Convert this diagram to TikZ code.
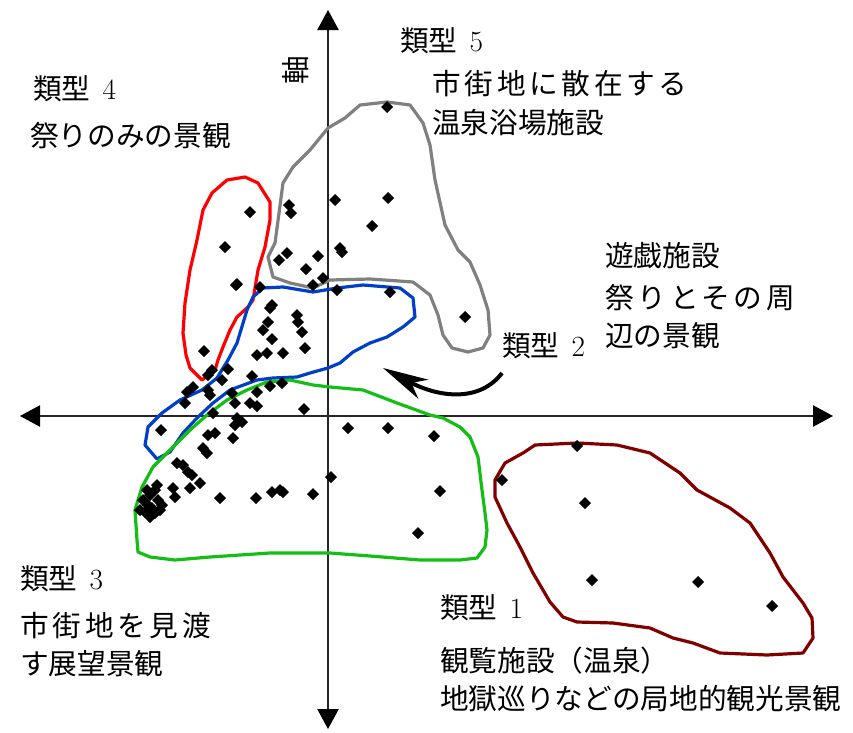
\documentclass[tikz,border=0pt]{standalone}
\usepackage{fontspec}
\newfontfamily\jpfont{Noto Sans CJK JP}
\newfontfamily\jpwide{Noto Sans CJK JP}[LetterSpace=13]
\usetikzlibrary{arrows.meta}
\definecolor{cgrey}{RGB}{128,128,128}
\definecolor{cred}{RGB}{255,0,0}
\definecolor{cblue}{RGB}{0,64,200}
\definecolor{cgreen}{RGB}{20,190,20}
\definecolor{cdark}{RGB}{128,0,0}
\newcommand{\typnum}[1]{\hspace{9pt}{\rmfamily\fontsize{22pt}{25pt}\selectfont #1}}
\tikzset{
  lbl/.style={anchor=base west, inner sep=0pt, font=\fontsize{21.5pt}{25pt}\selectfont\jpfont},
  lblw/.style={anchor=base west, inner sep=0pt, font=\fontsize{21.5pt}{25pt}\selectfont\jpwide},
  region/.style={line width=2.4pt, line join=round},
  axis/.style={line width=0.9pt, black!85,
    {Triangle[length=15pt,width=16pt,black]}-{Triangle[length=15pt,width=16pt,black]}},
  mk/.style={fill=black}
}
\begin{document}
\begin{tikzpicture}[x=0.75pt,y=-0.75pt]
\useasboundingbox (0,0) rectangle (853,732);
% axes
\coordinate (xl) at (20,416);
\coordinate (xr) at (833,416);
\coordinate (yt) at (328,10);
\coordinate (yb) at (328,729);
\draw[axis] (xl) -- (xr);
\draw[axis] (yb) -- (yt);
% regions
\draw[region, cgrey] (360,105) -- (387,102) -- (410,105) -- (423,123) -- (430,145) -- (435,180) -- (445,225) -- (458,250) -- (470,262) -- (480,285) -- (488,310) -- (490,335) -- (483,348) -- (468,352) -- (452,348) -- (443,335) -- (438,315) -- (430,295) -- (413,282) -- (370,279) -- (330,280) -- (313,288) -- (290,283) -- (273,277) -- (268,257) -- (275,243) -- (283,183) -- (293,167) -- (310,150) -- (328,128) -- (345,118) -- cycle;
\draw[region, cred] (227,180) -- (245,177) -- (258,183) -- (270,202) -- (270,220) -- (265,247) -- (258,270) -- (253,300) -- (248,307) -- (237,317) -- (230,330) -- (223,347) -- (218,360) -- (215,370) -- (202,380) -- (190,368) -- (186,355) -- (183,333) -- (185,303) -- (190,270) -- (197,240) -- (203,210) -- (212,193) -- cycle;
\draw[region, cblue] (263,288) -- (283,287) -- (313,292) -- (337,288) -- (363,285) -- (400,288) -- (413,298) -- (415,317) -- (403,327) -- (387,337) -- (370,343) -- (353,352) -- (340,363) -- (328,368) -- (310,373) -- (297,377) -- (273,378) -- (257,380) -- (230,390) -- (213,403) -- (198,417) -- (183,433) -- (170,452) -- (157,459) -- (145,445) -- (148,427) -- (162,413) -- (180,400) -- (202,390) -- (217,378) -- (228,360) -- (237,343) -- (247,310) -- (253,297) -- cycle;
\draw[region, cgreen] (137,540) -- (135,510) -- (142,487) -- (153,467) -- (170,450) -- (190,430) -- (207,415) -- (227,400) -- (247,390) -- (267,382) -- (290,380) -- (313,385) -- (330,387) -- (363,390) -- (397,403) -- (430,415) -- (443,418) -- (460,427) -- (470,437) -- (478,457) -- (482,490) -- (485,513) -- (487,530) -- (485,547) -- (477,558) -- (460,560) -- (420,560) -- (370,556) -- (330,553) -- (270,553) -- (210,557) -- (175,560) -- (150,557) -- (138,552) -- cycle;
\draw[region, cdark] (535,445) -- (577,443) -- (617,445) -- (650,453) -- (680,473) -- (697,490) -- (730,508) -- (750,523) -- (770,553) -- (783,577) -- (803,603) -- (812,618) -- (813,638) -- (803,653) -- (767,655) -- (720,653) -- (693,643) -- (673,638) -- (650,628) -- (613,623) -- (577,622) -- (563,617) -- (550,602) -- (533,573) -- (520,547) -- (507,523) -- (495,497) -- (495,480) -- (505,463) -- (523,453) -- cycle;
% markers
\foreach \x/\y in {387/107, 289/205, 291/213, 335/200, 388/198, 372/226, 340/248, 342/252, 287/253, 279/260, 318/256, 306/269, 465/317,
  250/212, 225/247, 236/285, 204/351, 260/287, 237/284, 323/278, 313/285, 337/290, 390/292,
  272/305, 270/308, 297/315, 298/322, 268/322, 263/330, 302/332, 272/339, 305/348, 283/353, 267/353, 257/355,
  228/369, 212/370, 222/380, 208/375, 252/376, 193/387, 187/392, 208/390, 210/395, 185/403, 232/393, 257/392, 270/386, 282/383,
  235/403, 250/403, 257/406, 304/409, 213/413, 237/418, 242/422, 235/425, 161/430, 208/435, 215/433, 233/438,
  203/448, 207/453, 177/463, 183/465, 188/472, 192/475, 200/483, 173/488, 175/497, 190/488, 220/498,
  256/498, 272/492, 280/490, 283/492, 313/494, 331/477,
  143/500, 148/505, 150/495, 155/490, 158/500, 160/510, 145/512, 150/517, 155/513, 162/505, 140/510, 147/490, 157/485, 152/508,
  348/428, 388/428, 434/436, 440/491, 418/533,
  502/480, 577/446, 585/503, 592/580, 698/582, 772/606}
  \fill[mk] (\x,\y) +(0,-6) -- +(6,0) -- +(0,6) -- +(-6,0) -- cycle;
% type 2 arrow
\coordinate (as) at (502,373);
\coordinate (ae) at (383,368);
\draw[line width=3pt, -{Stealth[length=34pt,width=16pt,inset=10pt]}] (as) .. controls (480,402) and (440,398) .. (ae);
% labels
\node[inner sep=0pt, rotate=90, font=\fontsize{21.5pt}{25pt}\selectfont\jpfont] (axl) at (296,70) {軸};
\node[lbl] (t5) at (400,51) {類型\typnum{5}};
\node[lblw] (t5a) at (432,94) {市街地に散在する};
\node[lbl] (t5b) at (432,133) {温泉浴場施設};
\node[lbl] (t4) at (33,99) {類型\typnum{4}};
\node[lbl] (t4a) at (30,146) {祭りのみの景観};
\node[lbl] (t2) at (502,356) {類型\typnum{2}};
\node[lbl] (t2a) at (605,266) {遊戯施設};
\node[lblw] (t2b) at (605,308) {祭りとその周};
\node[lbl] (t2c) at (605,346) {辺の景観};
\node[lbl] (t3) at (20,589) {類型\typnum{3}};
\node[lblw] (t3a) at (20,636) {市街地を見渡};
\node[lbl] (t3b) at (20,674) {す展望景観};
\node[lbl] (t1) at (440,618) {類型\typnum{1}};
\node[lbl] (t1a) at (440,671) {観覧施設（温泉）};
\node[lbl] (t1b) at (440,709) {地獄巡りなどの局地的観光景観};
\end{tikzpicture}
\end{document}
